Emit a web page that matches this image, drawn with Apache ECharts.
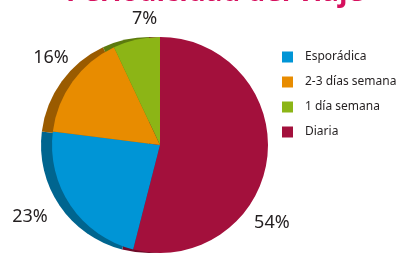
<!DOCTYPE html>
<html>
<head>
<meta charset="utf-8">
<script src="https://cdn.jsdelivr.net/npm/echarts@6/dist/echarts.min.js"></script>
<style>
  html, body { margin: 0; padding: 0; background: #fff; }
  #chart { width: 400px; height: 258px; }
</style>
</head>
<body>
<div id="chart"></div>
<script>
// datos del gráfico
const categorias = ['Diaria', 'Esporádica', '2-3 días semana', '1 día semana'];
const valores = [54, 23, 16, 7];
const ordenLeyenda = ['Esporádica', '2-3 días semana', '1 día semana', 'Diaria'];
const colores = ['#A3103C', '#0095D6', '#E88C00', '#8CB516'];
const coloresSombra = ['#6E0A28', '#00658F', '#9A5B00', '#5C7A0E'];
// desplazamiento de las etiquetas de porcentaje
const ajusteEtiquetas = [[-24, 64], [-13, 8], [6, -20], [27, -15]];

const datos = categorias.map((c, i) => ({ name: c, value: valores[i] }));

let myChart = echarts.init(document.getElementById('chart'));
myChart.setOption({
  animation: false,
  color: colores,
  title: {
    text: 'Periodicidad del viaje',
    left: 210,
    top: -26,
    textAlign: 'center',
    textStyle: {
      color: '#D6105E',
      fontSize: 28,
      fontWeight: 'bold',
      fontFamily: 'Open Sans'
    }
  },
  legend: {
    data: ordenLeyenda,
    orient: 'vertical',
    left: 277,
    top: 46,
    icon: 'rect',
    itemWidth: 11,
    itemHeight: 11,
    itemGap: 13,
    textStyle: {
      color: '#231F20',
      fontSize: 12,
      fontFamily: 'Noto Sans',
      padding: [0, 0, 0, 7]
    }
  },
  series: [
    {
      // lado oscuro (efecto 3D)
      type: 'pie',
      silent: true,
      radius: 108,
      center: [149, 145],
      startAngle: 90,
      clockwise: true,
      label: { show: false },
      labelLine: { show: false },
      data: datos.map((d, i) => ({ name: d.name + ' ', value: d.value, itemStyle: { color: coloresSombra[i] } }))
    },
    {
      name: 'Periodicidad',
      type: 'pie',
      radius: 108,
      center: [160, 145],
      startAngle: 90,
      clockwise: true,
      label: {
        show: true,
        position: 'outside',
        formatter: '{c}%',
        color: '#231F20',
        fontSize: 18,
        fontFamily: 'Noto Sans'
      },
      labelLine: { show: false, length: 6, length2: 0 },
      labelLayout: function (p) {
        const a = ajusteEtiquetas[p.dataIndex];
        return { dx: a[0], dy: a[1] };
      },
      data: datos
    }
  ]
});
</script>
</body>
</html>
